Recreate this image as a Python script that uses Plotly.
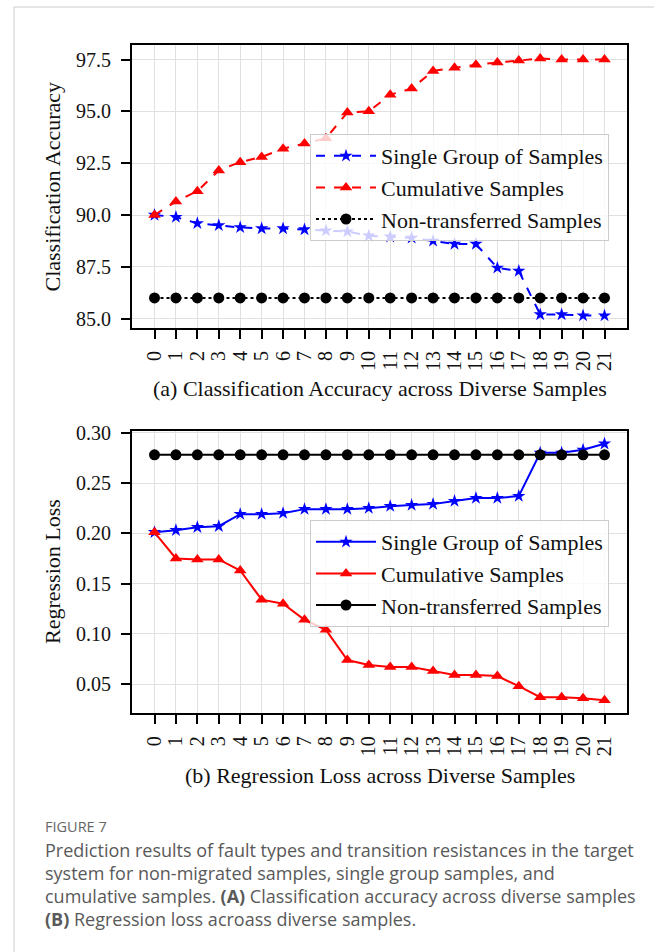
import plotly.graph_objects as go

# ---------------- data ----------------
samples = list(range(22))
tick_labels = [str(s) for s in samples]

acc_single = [90.0, 89.9, 89.6, 89.5, 89.4, 89.35, 89.35, 89.3, 89.25, 89.2, 89.0,
              88.95, 88.9, 88.75, 88.6, 88.6, 87.45, 87.3, 85.2, 85.2, 85.15, 85.15]
acc_cum = [90.0, 90.65, 91.15, 92.15, 92.55, 92.8, 93.2, 93.45, 93.7, 94.95, 95.0,
           95.8, 96.1, 96.95, 97.1, 97.25, 97.35, 97.45, 97.55, 97.5, 97.5, 97.5]
acc_non = [86.0, 86.0, 86.0, 86.0, 86.0, 86.0, 86.0, 86.0, 86.0, 86.0, 86.0,
           86.0, 86.0, 86.0, 86.0, 86.0, 86.0, 86.0, 86.0, 86.0, 86.0, 86.0]

loss_single = [0.201, 0.203, 0.206, 0.207, 0.219, 0.219, 0.220, 0.224, 0.224, 0.224, 0.225,
               0.227, 0.228, 0.229, 0.232, 0.235, 0.235, 0.237, 0.280, 0.280, 0.283, 0.289]
loss_cum = [0.201, 0.175, 0.174, 0.174, 0.163, 0.134, 0.130, 0.114, 0.104, 0.074, 0.069,
            0.067, 0.067, 0.063, 0.059, 0.059, 0.058, 0.048, 0.037, 0.037, 0.036, 0.034]
loss_non = [0.278, 0.278, 0.278, 0.278, 0.278, 0.278, 0.278, 0.278, 0.278, 0.278, 0.278,
            0.278, 0.278, 0.278, 0.278, 0.278, 0.278, 0.278, 0.278, 0.278, 0.278, 0.278]

names = ["Single Group of Samples", "Cumulative Samples", "Non-transferred Samples"]
acc_ticks = [85.0, 87.5, 90.0, 92.5, 95.0, 97.5]
loss_ticks = [0.05, 0.10, 0.15, 0.20, 0.25, 0.30]

title_a = "(a) Classification Accuracy across Diverse Samples"
title_b = "(b) Regression Loss across Diverse Samples"
ylab_a = "Classification Accuracy"
ylab_b = "Regression Loss"
fig_label = "FIGURE 7"
caption_lines = [
    "Prediction results of fault types and transition resistances in the target",
    "system for non-migrated samples, single group samples, and",
    "cumulative samples. <b>(A)</b> Classification accuracy across diverse samples",
    "<b>(B)</b> Regression loss acroass diverse samples.",
]

# ---------------- layout helpers ----------------
W, H = 654, 952
def px(x):
    return x / W
def py(y):
    return 1 - y / H

SERIF = "Liberation Serif, Times New Roman, serif"
SANS = "Open Sans, Noto Sans, sans-serif"
BLUE, RED, BLACK = "#0000ff", "#ff0000", "#000000"

fig = go.Figure()

# top chart
fig.add_trace(go.Scatter(x=samples, y=acc_single, name=names[0], mode="lines+markers",
                         line=dict(color=BLUE, width=2, dash="dash"),
                         marker=dict(symbol="star", size=10, color=BLUE),
                         xaxis="x", yaxis="y", legend="legend", legendgroup="a1"))
fig.add_trace(go.Scatter(x=samples, y=acc_cum, name=names[1], mode="lines+markers",
                         line=dict(color=RED, width=2, dash="dash"),
                         marker=dict(symbol="triangle-up", size=11, color=RED),
                         xaxis="x", yaxis="y", legend="legend", legendgroup="a2"))
fig.add_trace(go.Scatter(x=samples, y=acc_non, name=names[2], mode="lines+markers",
                         line=dict(color=BLACK, width=2, dash="dot"),
                         marker=dict(symbol="circle", size=11, color=BLACK),
                         xaxis="x", yaxis="y", legend="legend", legendgroup="a3"))

# bottom chart
fig.add_trace(go.Scatter(x=samples, y=loss_single, name=names[0], mode="lines+markers",
                         line=dict(color=BLUE, width=2),
                         marker=dict(symbol="star", size=10, color=BLUE),
                         xaxis="x2", yaxis="y2", legend="legend2", legendgroup="b1"))
fig.add_trace(go.Scatter(x=samples, y=loss_cum, name=names[1], mode="lines+markers",
                         line=dict(color=RED, width=2),
                         marker=dict(symbol="triangle-up", size=11, color=RED),
                         xaxis="x2", yaxis="y2", legend="legend2", legendgroup="b2"))
fig.add_trace(go.Scatter(x=samples, y=loss_non, name=names[2], mode="lines+markers",
                         line=dict(color=BLACK, width=2),
                         marker=dict(symbol="circle", size=11, color=BLACK),
                         xaxis="x2", yaxis="y2", legend="legend2", legendgroup="b3"))

axis_common = dict(showline=True, mirror=True, linewidth=2, linecolor="black",
                   ticks="outside", ticklen=9, tickwidth=1.5, tickcolor="black",
                   showgrid=True, gridcolor="#e0e0e0", gridwidth=1, zeroline=False,
                   automargin=False,
                   tickfont=dict(family=SERIF, size=20, color="#111"))

legend_common = dict(xanchor="left", yanchor="top",
                     bgcolor="rgba(255,255,255,0.8)", bordercolor="#cccccc", borderwidth=1,
                     font=dict(family=SERIF, size=22, color="#111"), tracegroupgap=0,
                     itemwidth=60)

fig.update_layout(
    width=W, height=H, margin=dict(l=0, r=0, t=0, b=0),
    paper_bgcolor="white", plot_bgcolor="white", showlegend=True,
    xaxis=dict(domain=[px(132), px(627)], anchor="y", range=[-1.05, 22.05],
               tickmode="array", tickvals=samples, ticktext=tick_labels, tickangle=-90,
               ticklabelstandoff=4, **axis_common),
    yaxis=dict(domain=[py(328), py(45)], anchor="x", range=[84.55, 98.2],
               tickmode="array", tickvals=acc_ticks, tickformat=".1f",
               ticklabelstandoff=6, **axis_common),
    xaxis2=dict(domain=[px(132), px(627)], anchor="y2", range=[-1.05, 22.05],
                tickmode="array", tickvals=samples, ticktext=tick_labels, tickangle=-90,
                ticklabelstandoff=4, **axis_common),
    yaxis2=dict(domain=[py(713.3), py(430.7)], anchor="x2", range=[0.021, 0.302],
                tickmode="array", tickvals=loss_ticks, tickformat=".2f",
                ticklabelstandoff=6, **axis_common),
    legend=dict(x=px(310), y=py(134), **legend_common),
    legend2=dict(x=px(310), y=py(520), **legend_common),
)

ann = []
ann.append(dict(text=ylab_a, x=px(52), y=py(186.5), xref="paper", yref="paper",
                xanchor="center", yanchor="middle",
                showarrow=False, textangle=-90, font=dict(family=SERIF, size=22, color="#111")))
ann.append(dict(text=ylab_b, x=px(52), y=py(572), xref="paper", yref="paper",
                xanchor="center", yanchor="middle",
                showarrow=False, textangle=-90, font=dict(family=SERIF, size=22, color="#111")))
ann.append(dict(text=title_a, x=px(379.5), y=py(388), xref="paper", yref="paper",
                xanchor="center", yanchor="middle",
                showarrow=False, font=dict(family=SERIF, size=22, color="#111")))
ann.append(dict(text=title_b, x=px(379.5), y=py(775), xref="paper", yref="paper",
                xanchor="center", yanchor="middle",
                showarrow=False, font=dict(family=SERIF, size=22, color="#111")))
ann.append(dict(text=fig_label, x=px(43), y=py(826), xref="paper", yref="paper",
                xanchor="left", yanchor="middle", showarrow=False,
                font=dict(family=SANS, size=14.5, color="#666")))
for i, line in enumerate(caption_lines):
    ann.append(dict(text=line, x=px(43), y=py(850 + 23 * i), xref="paper", yref="paper",
                    xanchor="left", yanchor="middle", showarrow=False,
                    font=dict(family=SANS, size=18, color="#595959")))
fig.update_layout(annotations=ann)

# page frame lines
fig.update_layout(shapes=[
    dict(type="line", xref="paper", yref="paper", x0=px(14), x1=1, y0=py(7), y1=py(7),
         line=dict(color="#cccccc", width=1)),
    dict(type="line", xref="paper", yref="paper", x0=px(14), x1=px(14), y0=py(7), y1=0,
         line=dict(color="#cccccc", width=1)),
])

# remove the browser's default 8px body margin so the figure sits at (0, 0)
page_css = ("document.body.style.margin='0';document.body.style.padding='0';"
            "document.body.style.overflow='hidden';")

fig.write_html("out.html", post_script=page_css)
